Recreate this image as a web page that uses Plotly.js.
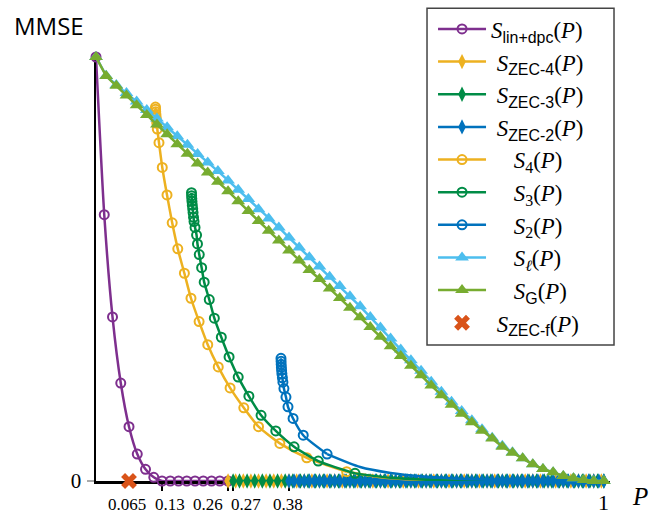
<!DOCTYPE html>
<html>
<head>
<meta charset="utf-8">
<script src="https://cdn.plot.ly/plotly-3.0.1.min.js"></script>
<style>html,body{margin:0;padding:0;background:#fff;}#chart{width:652px;height:514px;}</style>
</head>
<body>
<div id="chart"></div>
<script>
// ---------- data ----------
const P_lin = [0, 0.01625, 0.0325, 0.04875, 0.065, 0.08125, 0.0975, 0.11375, 0.13, 0.14625, 0.1625, 0.17875, 0.195, 0.21125, 0.2275, 0.24375, 0.26];
const S_lin = [1, 0.628, 0.387, 0.231, 0.128, 0.0635, 0.0275, 0.0087, 0, 0, 0, 0, 0, 0, 0, 0, 0];
const P_lin_tail = [0.26, 1.0];
const S_lin_tail = [0, 0];

const P_zec4 = [0.26,0.275,0.29,0.305,0.32,0.335,0.35,0.365,0.38,0.395,0.41,0.425,0.44,0.455,0.47,0.485,0.5,0.515,0.53,0.545,0.56,0.575,0.59,0.605,0.62,0.635,0.65,0.665,0.68,0.695,0.71,0.725,0.74,0.755,0.77,0.785,0.8,0.815,0.83,0.845,0.86,0.875,0.89,0.905,0.92,0.935,0.95,0.965,0.98,0.995];
const S_zec4 = [0,0,0,0,0,0,0,0,0,0,0,0,0,0,0,0,0,0,0,0,0,0,0,0,0,0,0,0,0,0,0,0,0,0,0,0,0,0,0,0,0,0,0,0,0,0,0,0,0,0];
const P_zec3 = [0.27,0.2825,0.2975,0.3125,0.3275,0.3425,0.3575,0.3725,0.3875,0.4025,0.4175,0.4325,0.4475,0.4625,0.4775,0.4925,0.5075,0.5225,0.5375,0.5525,0.5675,0.5825,0.5975,0.6125,0.6275,0.6425,0.6575,0.6725,0.6875,0.7025,0.7175,0.7325,0.7475,0.7625,0.7775,0.7925,0.8075,0.8225,0.8375,0.8525,0.8675,0.8825,0.8975,0.9125,0.9275,0.9425,0.9575,0.9725,0.9875,1.0];
const S_zec3 = [0,0,0,0,0,0,0,0,0,0,0,0,0,0,0,0,0,0,0,0,0,0,0,0,0,0,0,0,0,0,0,0,0,0,0,0,0,0,0,0,0,0,0,0,0,0,0,0,0,0];
const P_zec2 = [0.38,0.39,0.4,0.41,0.42,0.43,0.44,0.45,0.46,0.47,0.48,0.49,0.5,0.51,0.52,0.53,0.54,0.55,0.56,0.57,0.58,0.59,0.6,0.61,0.62,0.63,0.64,0.65,0.66,0.67,0.68,0.69,0.7,0.71,0.72,0.73,0.74,0.75,0.76,0.77,0.78,0.79,0.8,0.81,0.82,0.83,0.84,0.85,0.86,0.87,0.88,0.89,0.9,0.91,0.92,0.93,0.94,0.95,0.96,0.97,0.98,0.99,1.0];
const S_zec2 = [0,0,0,0,0,0,0,0,0,0,0,0,0,0,0,0,0,0,0,0,0,0,0,0,0,0,0,0,0,0,0,0,0,0,0,0,0,0,0,0,0,0,0,0,0,0,0,0,0,0,0,0,0,0,0,0,0,0,0,0,0,0,0];

const P_s4 = [0.1171,0.1173,0.1175,0.1179,0.1183,0.1189,0.1197,0.1207,0.124,0.1305,0.1398,0.150,0.161,0.174,0.187,0.203,0.220,0.2407,0.264,0.291,0.320,0.362,0.415,0.4935];
const S_s4 = [0.882,0.8765,0.871,0.865,0.859,0.852,0.8435,0.830,0.798,0.7395,0.6746,0.609,0.5475,0.490,0.431,0.376,0.3216,0.269,0.2195,0.1725,0.128,0.0887,0.0548,0.0219];
const P_s4_tail = [0.4935,0.56,0.63,0.72,0.8];
const S_s4_tail = [0.0219,0.009,0.003,0.0006,0];

const P_s3 = [0.188,0.1882,0.1886,0.189,0.1896,0.1904,0.1911,0.192,0.193,0.195,0.198,0.1998,0.2033,0.208,0.213,0.223,0.233,0.2467,0.262,0.280,0.301,0.325,0.354,0.390,0.4376,0.510];
const S_s3 = [0.680,0.673,0.666,0.659,0.6506,0.642,0.633,0.622,0.612,0.598,0.580,0.559,0.534,0.503,0.469,0.428,0.384,0.339,0.2925,0.245,0.200,0.155,0.118,0.0807,0.047,0.018];
const P_s3_tail = [0.510,0.58,0.66,0.75,0.85];
const S_s3_tail = [0.018,0.0075,0.0025,0.0005,0];

const P_s2 = [0.3642,0.3644,0.3646,0.365,0.3654,0.366,0.367,0.368,0.370,0.374,0.378,0.388,0.408,0.455];
const S_s2 = [0.2894,0.2824,0.2753,0.268,0.261,0.253,0.2435,0.233,0.218,0.198,0.175,0.1475,0.108,0.0635];
const P_s2_tail = [0.455,0.52,0.58,0.64,0.72,0.82,0.95];
const S_s2_tail = [0.0635,0.033,0.019,0.011,0.005,0.0015,0];

const P_grid = [0,0.02,0.04,0.06,0.08,0.1,0.12,0.14,0.16,0.18,0.2,0.22,0.24,0.26,0.28,0.3,0.32,0.34,0.36,0.38,0.4,0.42,0.44,0.46,0.48,0.5,0.52,0.54,0.56,0.58,0.6,0.62,0.64,0.66,0.68,0.7,0.72,0.74,0.76,0.78,0.8,0.82,0.84,0.86,0.88,0.9,0.92,0.94,0.96,0.98,1.0];
const S_ell = [1.0,0.956,0.934,0.915,0.895,0.875,0.855,0.8345,0.813,0.793,0.771,0.751,0.731,0.709,0.687,0.665,0.641,0.619,0.598,0.574,0.551,0.528,0.506,0.482,0.460,0.436,0.412,0.3865,0.362,0.336,0.310,0.285,0.260,0.234,0.2106,0.187,0.165,0.1435,0.122,0.102,0.083,0.068,0.0534,0.0393,0.0282,0.0205,0.0118,0.0064,0.0024,0,0];
const S_G = [1.0,0.955,0.932,0.909,0.886,0.8635,0.841,0.818,0.7945,0.772,0.749,0.7275,0.706,0.6835,0.660,0.6365,0.613,0.590,0.567,0.5435,0.520,0.4976,0.4765,0.454,0.4318,0.4087,0.386,0.363,0.3405,0.3176,0.2948,0.272,0.2494,0.225,0.2024,0.180,0.1588,0.1388,0.1188,0.100,0.0807,0.0666,0.0534,0.0393,0.0282,0.0205,0.0118,0.0064,0.0024,0,0];

const P_zecf = [0.065];
const S_zecf = [0];

const xTickVals = [0.065, 0.13, 0.26, 0.27, 0.38, 1];
const xTickText = ['0.065', '0.13', '0.26', '0.27', '0.38', '1'];
const yTickVals = [0];
const yTickText = ['0'];

const SANS = 'font-family:Liberation Sans, Arial, sans-serif';
const names = [
  '<i>S</i><sub><span style="' + SANS + '">lin+dpc</span></sub>(<i>P</i>)',
  '&nbsp;<i>S</i><sub><span style="' + SANS + '">ZEC-4</span></sub>(<i>P</i>)',
  '&nbsp;<i>S</i><sub><span style="' + SANS + '">ZEC-3</span></sub>(<i>P</i>)',
  '&nbsp;<i>S</i><sub><span style="' + SANS + '">ZEC-2</span></sub>(<i>P</i>)',
  '&nbsp;&nbsp;&nbsp;&nbsp;<i>S</i><sub>4</sub>(<i>P</i>)',
  '&nbsp;&nbsp;&nbsp;&nbsp;<i>S</i><sub>3</sub>(<i>P</i>)',
  '&nbsp;&nbsp;&nbsp;&nbsp;<i>S</i><sub>2</sub>(<i>P</i>)',
  '&nbsp;&nbsp;&nbsp;&nbsp;<i>S</i><sub><i>ℓ</i></sub>(<i>P</i>)',
  '&nbsp;&nbsp;&nbsp;&nbsp;<i>S</i><sub><span style="' + SANS + '">G</span></sub>(<i>P</i>)',
  '&nbsp;<i>S</i><sub><span style="' + SANS + '">ZEC-f</span></sub>(<i>P</i>)'
];

// ---------- styles ----------
const C = {purple:'#7E2F8E', yellow:'#EDB120', dgreen:'#008C46', blue:'#0072BD', lblue:'#4DBEEE', lgreen:'#77AC30', orange:'#D95319'};
const LW = 2.5;
function circ(color){ return {symbol:'circle-open', size:9, color:color, line:{color:color, width:2}}; }
function dia(color){ return {symbol:'diamond-tall', size:11, color:color, line:{width:0}}; }
function tri(color){ return {symbol:'triangle-up', size:12, color:color, line:{width:0}}; }

const traces = [
  {x:P_lin, y:S_lin, name:names[0], mode:'lines+markers', line:{color:C.purple, width:LW, shape:'spline', smoothing:0.6}, marker:circ(C.purple)},
  {x:P_lin_tail, y:S_lin_tail, mode:'lines', showlegend:false, line:{color:C.purple, width:LW}},
  {x:P_zec4, y:S_zec4, name:names[1], mode:'lines+markers', line:{color:C.yellow, width:LW}, marker:dia(C.yellow)},
  {x:P_zec3, y:S_zec3, name:names[2], mode:'lines+markers', line:{color:C.dgreen, width:LW}, marker:dia(C.dgreen)},
  {x:P_zec2, y:S_zec2, name:names[3], mode:'lines+markers', line:{color:C.blue, width:LW}, marker:dia(C.blue)},
  {x:P_s4, y:S_s4, name:names[4], mode:'lines+markers', line:{color:C.yellow, width:LW, shape:'spline', smoothing:0.6}, marker:circ(C.yellow)},
  {x:P_s4_tail, y:S_s4_tail, mode:'lines', showlegend:false, line:{color:C.yellow, width:LW, shape:'spline', smoothing:0.6}},
  {x:P_s3, y:S_s3, name:names[5], mode:'lines+markers', line:{color:C.dgreen, width:LW, shape:'spline', smoothing:0.6}, marker:circ(C.dgreen)},
  {x:P_s3_tail, y:S_s3_tail, mode:'lines', showlegend:false, line:{color:C.dgreen, width:LW, shape:'spline', smoothing:0.6}},
  {x:P_s2, y:S_s2, name:names[6], mode:'lines+markers', line:{color:C.blue, width:LW, shape:'spline', smoothing:0.6}, marker:circ(C.blue)},
  {x:P_s2_tail, y:S_s2_tail, mode:'lines', showlegend:false, line:{color:C.blue, width:LW, shape:'spline', smoothing:0.6}},
  {x:P_grid, y:S_ell, name:names[7], mode:'lines+markers', line:{color:C.lblue, width:LW}, marker:tri(C.lblue)},
  {x:P_grid, y:S_G, name:names[8], mode:'lines+markers', line:{color:C.lgreen, width:LW}, marker:tri(C.lgreen)},
  {x:P_zecf, y:S_zecf, name:names[9], mode:'markers', marker:{symbol:'x', size:14, color:C.orange, line:{width:0}}}
];
traces.forEach(t => { t.type = 'scatter'; t.cliponaxis = false; });

const SERIF = 'Liberation Serif, Times New Roman, serif';
const labelShift = [-2, 8, -20, 13, -1, 0];
const annotations = xTickVals.map((v, i) => ({
  x: v, xref:'x', y: i === 5 ? -0.05 : -0.056, yref:'paper', yanchor:'middle', xanchor:'center',
  xshift: labelShift[i], showarrow:false, text: xTickText[i],
  font:{family:SERIF, size: i === 5 ? 22 : 17, color:'#000'}
}));
annotations.push({x:-0.0924, xref:'paper', y:1.075, yref:'paper', xanchor:'center', yanchor:'middle', showarrow:false,
  text:'MMSE', font:{family:'Open Sans, sans-serif', size:24, color:'#000'}});
annotations.push({x:1.058, xref:'paper', y:-0.036, yref:'paper', xanchor:'center', yanchor:'middle', showarrow:false,
  text:'<i>P</i>', font:{family:SERIF, size:25, color:'#000'}});
annotations.push({x:1.016, xref:'x', y:0, yref:'y', ax:-7, ay:0, showarrow:true, arrowhead:2, arrowsize:1, arrowwidth:2, arrowcolor:'#000', text:''});

// legend frame (drawn as a box behind the legend entries)
const shapes = [
  {type:'rect', xref:'paper', yref:'paper', x0:0.644, x1:1.0078, y0:0.3208, y1:1.1149,
   line:{color:'#444', width:1.5}, fillcolor:'#fff', layer:'above'}
];

const layout = {
  width:652, height:514,
  margin:{l:96, r:42, t:57, b:33, pad:0, autoexpand:false},
  paper_bgcolor:'#fff', plot_bgcolor:'#fff',
  showlegend:true,
  xaxis:{range:[0,1.012], showgrid:false, zeroline:false, showline:true, linecolor:'#000', linewidth:2.5,
    ticks:'outside', ticklen:7, tickwidth:1.5, tickcolor:'#000', tickmode:'array', tickvals:xTickVals.slice(1,5),
    showticklabels:false, layer:'below traces', fixedrange:true, automargin:false},
  xaxis2:{overlaying:'x', matches:'x', anchor:'y', range:[0,1.012], showgrid:false, zeroline:false, showline:false,
    ticks:'inside', ticklen:4, tickwidth:1.5, tickcolor:'#000', tickmode:'array', tickvals:xTickVals.slice(1,5),
    showticklabels:false, layer:'below traces'},
  yaxis:{range:[0,1], showgrid:false, zeroline:false, showline:true, linecolor:'#000', linewidth:2.5,
    ticks:'outside', ticklen:7, tickwidth:1.5, tickcolor:'#aaa', tickmode:'array', tickvals:yTickVals, ticktext:yTickText,
    tickfont:{family:SERIF, size:21, color:'#000'}, ticklabelstandoff:1, layer:'below traces', fixedrange:true, automargin:false},
  legend:{x:0.6557, xanchor:'left', y:1.1164, yanchor:'top', bgcolor:'rgba(0,0,0,0)', borderwidth:0,
    font:{family:SERIF, size:22.8, color:'#000'}, itemwidth:48, traceorder:'normal', maxheight:520},
  shapes:shapes,
  annotations:annotations
};

Plotly.newPlot('chart', traces, layout, {staticPlot:true, displayModeBar:false});
</script>
</body>
</html>
